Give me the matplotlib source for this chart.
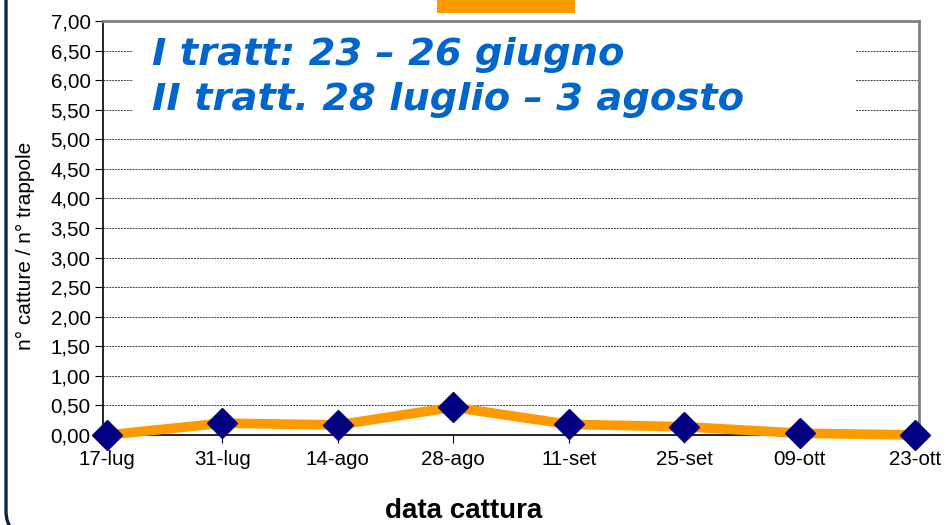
import matplotlib
matplotlib.use("Agg")
import matplotlib.pyplot as plt
from matplotlib.patches import FancyBboxPatch, Rectangle
from matplotlib.transforms import IdentityTransform
import numpy as np

# data
dates = ["17-lug", "31-lug", "14-ago", "28-ago", "11-set", "25-set", "09-ott", "23-ott"]
catture = [0.00, 0.20, 0.17, 0.47, 0.18, 0.14, 0.03, 0.00]
y_ticks = [i * 0.5 for i in range(15)]

plt.rcParams["font.family"] = ["Liberation Sans", "DejaVu Sans"]

W, H = 946, 525
fig = plt.figure(figsize=(W / 100, H / 100), dpi=100)
fig.patch.set_facecolor("white")

# outer rounded frame, in pixels: only the left side and bottom-left corner show
frame = FancyBboxPatch((6, -10), 1100, 700,
                       boxstyle="round,pad=0,rounding_size=24",
                       transform=IdentityTransform(), fill=False,
                       edgecolor="#0b2545", linewidth=2.4, zorder=0)
fig.patches.append(frame)

# orange title box cut at top
fig.patches.append(Rectangle((437 / W, 1 - 13 / H), 138 / W, 13 / H,
                             transform=fig.transFigure, facecolor="#FF9900",
                             edgecolor="none"))

ax = fig.add_axes([103 / W, 1 - 435 / H, 816 / W, 414 / H])
x = np.arange(len(dates))
ax.plot(x, catture, color="#FF9900", linewidth=7, solid_joinstyle="round",
        solid_capstyle="round", zorder=3, clip_on=False)
ax.plot(x, catture, linestyle="none", marker="D", markersize=15,
        markerfacecolor="#000080", markeredgecolor="#000080", zorder=4,
        clip_on=False)

ax.set_xlim(-0.035, len(dates) - 1 + 0.035)
ax.set_ylim(0, 7)
ax.set_yticks(y_ticks)
ax.set_yticklabels([f"{v:.2f}".replace(".", ",") for v in y_ticks])
ax.set_xticks(x)
ax.set_xticklabels(dates)
ax.tick_params(axis="both", labelsize=14.8, colors="black", length=6, width=0.8)
ax.tick_params(axis="x", pad=5)
ax.tick_params(axis="y", pad=3)

ax.yaxis.grid(True, linestyle=(0, (2, 1)), color="#404040", linewidth=0.7)
ax.set_axisbelow(True)

for s in ("left", "bottom"):
    ax.spines[s].set_color("black")
    ax.spines[s].set_linewidth(1.2)
for s in ("top", "right"):
    ax.spines[s].set_color("#808080")
    ax.spines[s].set_linewidth(2)

ax.set_ylabel("n° catture / n° trappole", fontsize=15)
ax.yaxis.set_label_coords(-0.095, 0.456)
ax.yaxis.label.set_va("center")
ax.set_xlabel("data cattura", fontsize=20, fontweight="bold")
ax.xaxis.set_label_coords(0.442, -0.200)
ax.xaxis.label.set_va("baseline")

# white box with treatment dates, covering the grid
ax.add_patch(Rectangle((133 / W, 1 - 124 / H), 722 / W, 102 / H,
                       transform=fig.transFigure, facecolor="white",
                       edgecolor="none", zorder=2))
fig.text(152 / W, 1 - 55 / H, "I tratt: 23 – 26 giugno", family="DejaVu Sans",
         fontsize=27.7, fontweight="bold", style="italic", color="#0066CC",
         va="center", ha="left")
fig.text(152 / W, 1 - 100 / H, "II tratt. 28 luglio – 3 agosto", family="DejaVu Sans",
         fontsize=27.7, fontweight="bold", style="italic", color="#0066CC",
         va="center", ha="left")

fig.savefig("out.png", dpi=100)
